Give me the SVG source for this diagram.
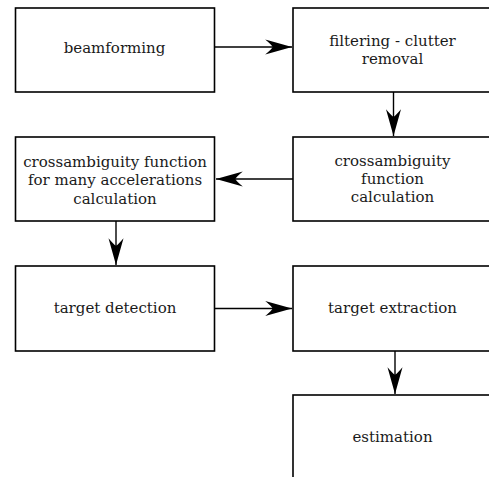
<svg xmlns="http://www.w3.org/2000/svg" width="489" height="477" viewBox="0 0 489 477">
<style>
rect{fill:#fff;stroke:#000;stroke-width:1.6}
text{font-family:"DejaVu Serif",serif;font-size:15px;fill:#1a1a1a;text-anchor:middle}
.c line{stroke:#000;stroke-width:1.4}
</style>
<defs>
<marker id="ah" markerUnits="userSpaceOnUse" markerWidth="30" markerHeight="20" viewBox="-26 -8 28 16" refX="0" refY="0" orient="auto">
<path d="M0,0 L-25,-7 Q-19,-2 -18,0 Q-19,2 -25,7 Z" fill="#000"/>
</marker>
</defs>
<rect x="0" y="0" width="489" height="477" style="stroke:none"/>
<g id="beamforming"><rect x="15.5" y="8" width="199" height="84"/><text x="114.5" y="53">beamforming</text></g>
<g id="filtering"><rect x="293" y="8" width="210" height="84"/><text x="392.5" y="46">filtering - clutter</text><text x="392.5" y="64">removal</text></g>
<g id="caf"><rect x="293" y="137" width="210" height="84"/><text x="392.5" y="166">crossambiguity</text><text x="392.5" y="184">function</text><text x="392.5" y="202">calculation</text></g>
<g id="cafacc"><rect x="15.5" y="137" width="199" height="84"/><text x="115" y="167">crossambiguity function</text><text x="115" y="185">for many accelerations</text><text x="115" y="204">calculation</text></g>
<g id="detection"><rect x="15.5" y="266" width="199" height="85"/><text x="115" y="313">target detection</text></g>
<g id="extraction"><rect x="293" y="266" width="210" height="85"/><text x="392.5" y="313">target extraction</text></g>
<g id="estimation"><rect x="293" y="395" width="210" height="100"/><text x="392.5" y="442">estimation</text></g>
<g class="c" id="connectors">
<line x1="215" y1="47" x2="292" y2="47" marker-end="url(#ah)"/>
<line x1="393.5" y1="92" x2="393.5" y2="136" marker-end="url(#ah)"/>
<line x1="293" y1="179" x2="216" y2="179" marker-end="url(#ah)"/>
<line x1="116" y1="221" x2="116" y2="265" marker-end="url(#ah)"/>
<line x1="215" y1="308.5" x2="292" y2="308.5" marker-end="url(#ah)"/>
<line x1="395" y1="351" x2="395" y2="394" marker-end="url(#ah)"/>
</g>
</svg>
